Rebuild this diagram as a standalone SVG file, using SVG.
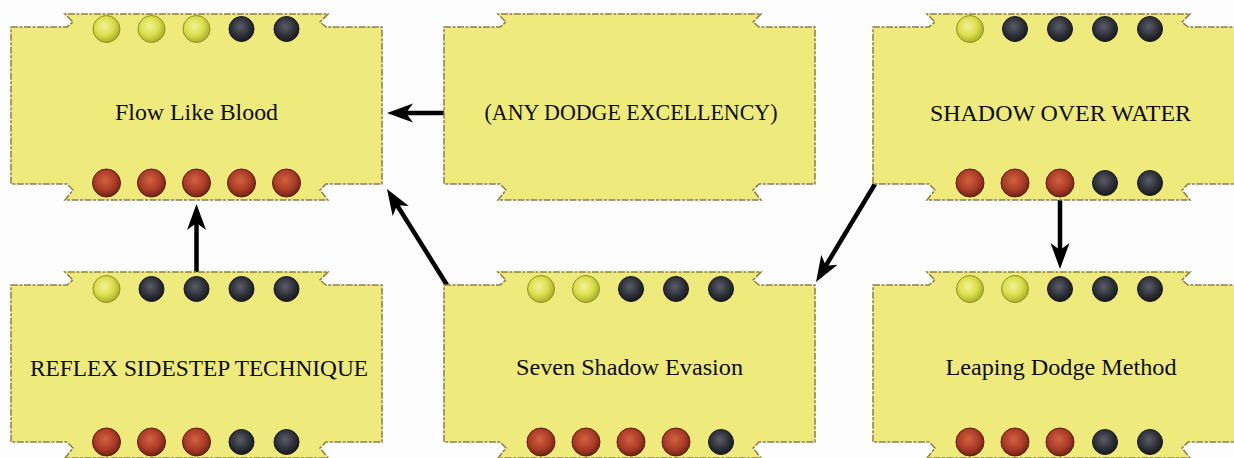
<svg xmlns="http://www.w3.org/2000/svg" width="1234" height="458" viewBox="0 0 1234 458">
  <style>
    .card { fill: #eeea7c; stroke: #8c7d45; stroke-width: 1.5; stroke-dasharray: 7 1.5 3 1.5; }
    .label { font-family: "Liberation Serif", "DejaVu Serif", serif; font-size: 23px; fill: #0d0d0d; text-anchor: middle; }
    .edge { fill: none; stroke: #000; stroke-width: 4.5; marker-end: url(#arrow); }
    .y { fill: url(#gYellow); stroke: #8f9222; stroke-width: 1; }
    .k { fill: url(#gDark); stroke: #1a1a20; stroke-width: 1; }
    .r { fill: url(#gRed); stroke: #5e1c10; stroke-width: 1; }
  </style>
  <defs>
    <path id="shape" class="card" d="M0,13 H56 L62,8 L54,0 H317 L309,8 L315,13 H371 V170 H315 L309,176 L317,186 H54 L62,176 L56,170 H0 Z"/>
    <radialGradient id="gYellow" cx="0.42" cy="0.4" r="0.62">
      <stop offset="0" stop-color="#f2f39a"/>
      <stop offset="0.55" stop-color="#dcdf4c"/>
      <stop offset="1" stop-color="#a9ab2a"/>
    </radialGradient>
    <radialGradient id="gDark" cx="0.45" cy="0.4" r="0.62">
      <stop offset="0" stop-color="#5a5d68"/>
      <stop offset="0.6" stop-color="#2e3039"/>
      <stop offset="1" stop-color="#16171c"/>
    </radialGradient>
    <radialGradient id="gRed" cx="0.45" cy="0.4" r="0.62">
      <stop offset="0" stop-color="#d2623f"/>
      <stop offset="0.6" stop-color="#aa3b26"/>
      <stop offset="1" stop-color="#6a2113"/>
    </radialGradient>
    <marker id="arrow" markerUnits="userSpaceOnUse" viewBox="0 -10 27 20" refX="8" refY="0" markerWidth="27" markerHeight="20" orient="auto">
      <path d="M0,-9.5 L26,0 L0,9.5 L7,0 Z" fill="#000"/>
    </marker>
  </defs>

  <rect width="1234" height="458" fill="#fdfdfd"/>

  <g id="connectors">
    <line class="edge" x1="444" y1="113" x2="405" y2="113"/>
    <line class="edge" x1="196.5" y1="272" x2="196.5" y2="222"/>
    <line class="edge" x1="447" y1="285" x2="396.5" y2="204.3"/>
    <line class="edge" x1="875" y1="184" x2="825.3" y2="266.6"/>
    <line class="edge" x1="1060" y1="200" x2="1060" y2="251"/>
  </g>

  <g id="node-flow-like-blood" transform="translate(11,14)">
    <use href="#shape"/>
    <circle class="y" cx="95.5" cy="15" r="13.5"/>
    <circle class="y" cx="140.5" cy="15" r="13.5"/>
    <circle class="y" cx="185.5" cy="15" r="13.5"/>
    <circle class="k" cx="230.5" cy="15" r="12.5"/>
    <circle class="k" cx="275.5" cy="15" r="12.5"/>
    <circle class="r" cx="95.5" cy="169" r="14"/>
    <circle class="r" cx="140.5" cy="169" r="14"/>
    <circle class="r" cx="185.5" cy="169" r="14"/>
    <circle class="r" cx="230.5" cy="169" r="14"/>
    <circle class="r" cx="275.5" cy="169" r="14"/>
    <text class="label" x="185.5" y="106" textLength="163" lengthAdjust="spacingAndGlyphs">Flow Like Blood</text>
  </g>

  <g id="node-any-dodge-excellency" transform="translate(444,14)">
    <use href="#shape"/>
    <text class="label" x="187" y="106" textLength="293" lengthAdjust="spacingAndGlyphs">(ANY DODGE EXCELLENCY)</text>
  </g>

  <g id="node-shadow-over-water" transform="translate(873,14)">
    <use href="#shape"/>
    <circle class="y" cx="97" cy="15" r="13.5"/>
    <circle class="k" cx="142" cy="15" r="12.5"/>
    <circle class="k" cx="187" cy="15" r="12.5"/>
    <circle class="k" cx="232" cy="15" r="12.5"/>
    <circle class="k" cx="277" cy="15" r="12.5"/>
    <circle class="r" cx="97" cy="169" r="14"/>
    <circle class="r" cx="142" cy="169" r="14"/>
    <circle class="r" cx="187" cy="169" r="14"/>
    <circle class="k" cx="232" cy="169" r="12.5"/>
    <circle class="k" cx="277" cy="169" r="12.5"/>
    <text class="label" x="187.5" y="107" textLength="261" lengthAdjust="spacingAndGlyphs">SHADOW OVER WATER</text>
  </g>

  <g id="node-reflex-sidestep-technique" transform="translate(11,272)">
    <use href="#shape"/>
    <circle class="y" cx="95.5" cy="17" r="13.5"/>
    <circle class="k" cx="140.5" cy="17" r="12.5"/>
    <circle class="k" cx="185.5" cy="17" r="12.5"/>
    <circle class="k" cx="230.5" cy="17" r="12.5"/>
    <circle class="k" cx="275.5" cy="17" r="12.5"/>
    <circle class="r" cx="95.5" cy="170" r="14"/>
    <circle class="r" cx="140.5" cy="170" r="14"/>
    <circle class="r" cx="185.5" cy="170" r="14"/>
    <circle class="k" cx="230.5" cy="170" r="12.5"/>
    <circle class="k" cx="275.5" cy="170" r="12.5"/>
    <text class="label" x="188" y="103.5" textLength="338" lengthAdjust="spacingAndGlyphs">REFLEX SIDESTEP TECHNIQUE</text>
  </g>

  <g id="node-seven-shadow-evasion" transform="translate(444,272)">
    <use href="#shape"/>
    <circle class="y" cx="97" cy="17" r="13.5"/>
    <circle class="y" cx="142" cy="17" r="13.5"/>
    <circle class="k" cx="187" cy="17" r="12.5"/>
    <circle class="k" cx="232" cy="17" r="12.5"/>
    <circle class="k" cx="277" cy="17" r="12.5"/>
    <circle class="r" cx="97" cy="170" r="14"/>
    <circle class="r" cx="142" cy="170" r="14"/>
    <circle class="r" cx="187" cy="170" r="14"/>
    <circle class="r" cx="232" cy="170" r="14"/>
    <circle class="k" cx="277" cy="170" r="12.5"/>
    <text class="label" x="185.5" y="103" textLength="227" lengthAdjust="spacingAndGlyphs">Seven Shadow Evasion</text>
  </g>

  <g id="node-leaping-dodge-method" transform="translate(873,272)">
    <use href="#shape"/>
    <circle class="y" cx="97" cy="17" r="13.5"/>
    <circle class="y" cx="142" cy="17" r="13.5"/>
    <circle class="k" cx="187" cy="17" r="12.5"/>
    <circle class="k" cx="232" cy="17" r="12.5"/>
    <circle class="k" cx="277" cy="17" r="12.5"/>
    <circle class="r" cx="97" cy="170" r="14"/>
    <circle class="r" cx="142" cy="170" r="14"/>
    <circle class="r" cx="187" cy="170" r="14"/>
    <circle class="k" cx="232" cy="170" r="12.5"/>
    <circle class="k" cx="277" cy="170" r="12.5"/>
    <text class="label" x="188" y="103" textLength="231" lengthAdjust="spacingAndGlyphs">Leaping Dodge Method</text>
  </g>
</svg>
